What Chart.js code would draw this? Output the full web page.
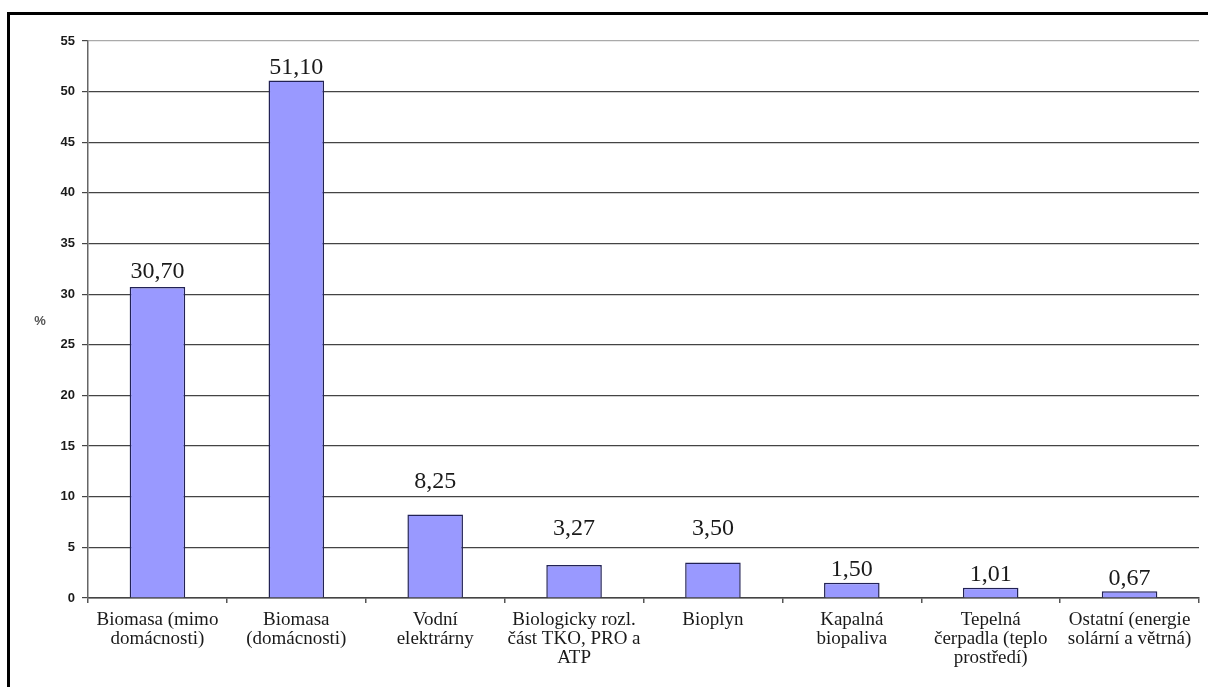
<!DOCTYPE html>
<html>
<head>
<meta charset="utf-8">
<script src="https://cdn.jsdelivr.net/npm/chart.js@4"></script>
<style>
  html, body { margin: 0; padding: 0; background: #fff; }
  #wrap { position: relative; width: 1208px; height: 687px; }
  #frame { position: absolute; left: 7px; top: 12px; right: -10px; bottom: -10px;
           border-left: 3px solid #000; border-top: 3px solid #000; pointer-events: none; }
</style>
</head>
<body>
<div id="wrap">
  <canvas id="c" width="1208" height="687"></canvas>
  <div id="frame"></div>
</div>
<script>
const categories = [
  ["Biomasa (mimo", "domácnosti)"],
  ["Biomasa", "(domácnosti)"],
  ["Vodní", "elektrárny"],
  ["Biologicky rozl.", "část TKO, PRO a", "ATP"],
  ["Bioplyn"],
  ["Kapalná", "biopaliva"],
  ["Tepelná", "čerpadla (teplo", "prostředí)"],
  ["Ostatní (energie", "solární a větrná)"]
];
const values = [30.70, 51.10, 8.25, 3.27, 3.50, 1.50, 1.01, 0.67];
const valueLabels = ["30,70", "51,10", "8,25", "3,27", "3,50", "1,50", "1,01", "0,67"];
const yTicks = [0, 5, 10, 15, 20, 25, 30, 35, 40, 45, 50, 55];
const yAxisLabel = "%";

// style: extra lift of some value labels (as in the original)
const labelLift = [2, 0, 20, 23, 21, 0, 0, 0];

const valueLabelPlugin = {
  id: 'valueLabels',
  afterDatasetsDraw(chart) {
    const ctx = chart.ctx;
    const meta = chart.getDatasetMeta(0);
    ctx.save();
    ctx.font = '24px "Liberation Serif", "Times New Roman", serif';
    ctx.fillStyle = '#1a1a1a';
    ctx.textAlign = 'center';
    ctx.textBaseline = 'middle';
    meta.data.forEach((bar, i) => {
      ctx.fillText(valueLabels[i], bar.x, bar.y - 13 - labelLift[i]);
    });
    // y-axis unit label
    const ys = chart.scales.y;
    ctx.font = 'bold 13px "Liberation Sans", Arial, sans-serif';
    ctx.fillStyle = '#555';
    ctx.fillText(yAxisLabel, 40, (ys.top + ys.bottom) / 2 + 2);
    ctx.restore();
  }
};

new Chart(document.getElementById('c'), {
  type: 'bar',
  data: {
    labels: categories,
    datasets: [{
      data: values,
      backgroundColor: '#9999ff',
      borderColor: '#222255',
      borderWidth: 1.5,
      categoryPercentage: 1,
      barPercentage: 0.4
    }]
  },
  options: {
    responsive: false,
    animation: false,
    layout: { padding: { top: 41, right: 9, left: 0, bottom: 0 } },
    plugins: { legend: { display: false }, tooltip: { enabled: false } },
    scales: {
      x: {
        offset: true,
        grid: {
          offset: true,
          drawOnChartArea: true,
          color: c => (c.index === categories.length ? '#999' : 'rgba(0,0,0,0)'),
          tickColor: '#555',
          tickLength: 5,
          lineWidth: 1.5
        },
        border: { color: '#444', width: 1.5 },
        ticks: {
          color: '#1a1a1a',
          font: { family: '"Liberation Serif", "Times New Roman", serif', size: 19, lineHeight: '19px' },
          padding: 8,
          maxRotation: 0,
          autoSkip: false
        },
        afterFit(scale) { scale.height = 89; scale.paddingLeft = 0; scale.paddingRight = 0; }
      },
      y: {
        min: 0,
        max: 55,
        afterBuildTicks(scale) { scale.ticks = yTicks.map(v => ({ value: v })); },
        grid: {
          color: c => (c.tick && c.tick.value === 55 ? '#aaa' : '#444'),
          tickColor: '#444',
          tickLength: 6,
          lineWidth: 1.2
        },
        border: { color: '#666', width: 1.5 },
        ticks: {
          color: '#1a1a1a',
          font: { family: '"Liberation Sans", Arial, sans-serif', size: 13, weight: 'bold' },
          padding: 7
        },
        afterFit(scale) { scale.width = 88; scale.paddingTop = 0; scale.paddingBottom = 0; }
      }
    }
  },
  plugins: [valueLabelPlugin]
});
</script>
</body>
</html>
